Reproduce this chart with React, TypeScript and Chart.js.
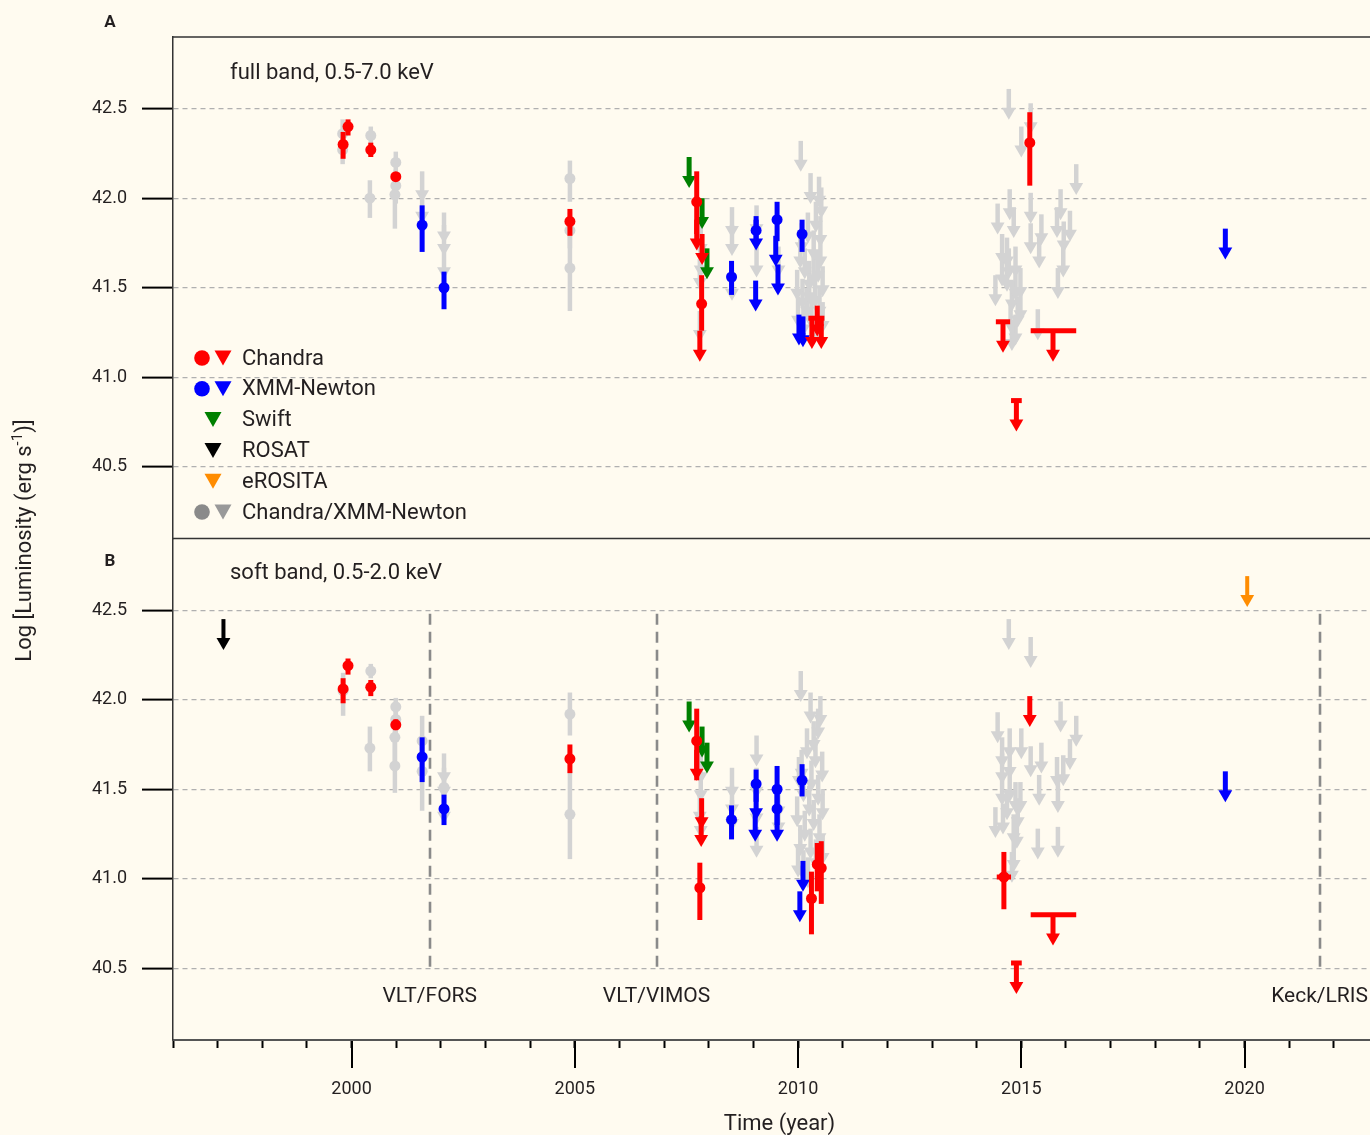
import { useEffect, useRef } from 'react';
import { Chart, registerables } from 'chart.js';

Chart.register(...registerables);

// ---------------- axis / label data ----------------
const X_MIN = 1996;
const X_MAX = 2022.81;
const Y_MIN = 40.1;
const Y_MAX = 42.9;
const X_LABEL_YEARS = [2000, 2005, 2010, 2015, 2020];
const SPECTRO_YEARS = [2001.75, 2006.83, 2021.68];
const SPECTRO_LABELS = ['VLT/FORS', 'VLT/VIMOS', 'Keck/LRIS'];
const PANEL_TITLES = ['full band, 0.5-7.0 keV', 'soft band, 0.5-2.0 keV'];
const PANEL_LETTERS = ['A', 'B'];
const LEGEND_LABELS = ['Chandra', 'XMM-Newton', 'Swift', 'ROSAT', 'eROSITA', 'Chandra/XMM-Newton'];

// detections: [year, logL, low, high] ; spans add [yearLow, yearHigh]
// upper limits: [year, limit] ; spans add [yearLow, yearHigh]

// ---------- panel A : full band ----------
const A_CHANDRA_DET = [
  [1999.81, 42.30, 42.22, 42.37], [1999.92, 42.40, 42.35, 42.44], [2000.43, 42.27, 42.23, 42.31],
  [2000.99, 42.12, 42.10, 42.14], [2004.89, 41.87, 41.79, 41.94], [2007.73, 41.98, 41.80, 42.15],
  [2007.84, 41.41, 41.26, 41.57], [2015.19, 42.31, 42.07, 42.48],
];
const A_CHANDRA_UL = [[2007.73, 41.88], [2007.85, 41.80], [2007.80, 41.26], [2010.43, 41.40]];
const A_CHANDRA_UL_SPAN = [
  [2010.31, 41.33, 2010.23, 2010.39], [2010.52, 41.33, 2010.45, 2010.59],
  [2014.59, 41.31, 2014.43, 2014.75], [2015.71, 41.26, 2015.21, 2016.23], [2014.89, 40.87, 2014.77, 2015.01],
];
const A_XMM_DET = [
  [2001.58, 41.85, 41.70, 41.96], [2002.07, 41.50, 41.38, 41.59], [2008.51, 41.56, 41.46, 41.65],
  [2009.06, 41.82, 41.76, 41.90], [2009.53, 41.88, 41.76, 41.98], [2010.09, 41.80, 41.70, 41.88],
];
const A_XMM_UL = [
  [2009.06, 41.88], [2009.05, 41.54], [2009.50, 41.79], [2009.55, 41.63],
  [2010.02, 41.35], [2010.11, 41.34], [2019.57, 41.83],
];
const A_SWIFT_UL = [[2007.56, 42.23], [2007.85, 42.00], [2007.96, 41.72]];
const A_ARCHIVE_DET = [
  [1999.80, 42.36, 42.28, 42.44], [1999.80, 42.27, 42.19, 42.35],
  [2000.43, 42.35, 42.30, 42.40], [2000.41, 42.00, 41.89, 42.10],
  [2000.99, 42.20, 42.13, 42.26], [2000.99, 42.07, 41.97, 42.16], [2000.97, 42.02, 41.83, 42.12],
  [2004.89, 42.11, 41.98, 42.21], [2004.89, 41.82, 41.72, 41.92], [2004.89, 41.61, 41.37, 41.85],
];
const A_ARCHIVE_UL = [
  [2001.58, 42.15], [2001.58, 42.03],
  [2002.07, 41.92], [2002.07, 41.85], [2002.07, 41.72],
  [2007.82, 41.85], [2007.82, 41.73], [2007.80, 41.66], [2007.80, 41.37],
  [2008.52, 41.95], [2008.52, 41.85], [2008.52, 41.60],
  [2009.07, 41.96], [2009.07, 41.73], [2009.56, 41.73],
  [2010.06, 42.32], [2010.28, 42.14], [2010.47, 42.12], [2010.52, 42.06], [2010.40, 41.98],
  [2010.22, 41.92], [2010.50, 41.90], [2010.08, 41.86], [2010.35, 41.82], [2010.05, 41.78],
  [2010.50, 41.78], [2010.15, 41.72], [2010.45, 41.70], [2010.35, 41.68], [2010.25, 41.65],
  [2010.55, 41.62], [2009.98, 41.60], [2010.25, 41.58], [2010.38, 41.56], [2010.10, 41.55],
  [2010.20, 41.50], [2010.48, 41.50], [2010.00, 41.45], [2010.30, 41.44], [2010.55, 41.42],
  [2010.12, 41.40], [2010.42, 41.38],
  [2014.72, 42.61], [2015.21, 42.53], [2015.00, 42.40], [2016.23, 42.19], [2014.47, 41.97],
  [2014.74, 42.05], [2014.83, 41.95], [2015.21, 42.03], [2015.21, 41.86], [2015.45, 41.91],
  [2015.40, 41.78], [2015.88, 42.05], [2015.80, 41.95], [2016.09, 41.93], [2015.95, 41.87],
  [2015.94, 41.73], [2015.82, 41.61], [2014.57, 41.80], [2014.57, 41.68], [2014.68, 41.78],
  [2014.68, 41.65], [2014.72, 41.72], [2014.87, 41.73], [2014.87, 41.60], [2014.42, 41.57],
  [2014.79, 41.54], [2014.98, 41.61], [2014.98, 41.48], [2014.87, 41.35], [2014.79, 41.32],
  [2015.37, 41.38], [2014.92, 41.45], [2014.76, 41.42],
];

// ---------- panel B : soft band ----------
const B_CHANDRA_DET = [
  [1999.81, 42.06, 41.98, 42.12], [1999.92, 42.19, 42.14, 42.23], [2000.43, 42.07, 42.02, 42.11],
  [2000.99, 41.86, 41.83, 41.89], [2004.89, 41.67, 41.59, 41.75], [2007.73, 41.77, 41.55, 41.95],
  [2007.80, 40.95, 40.77, 41.09], [2010.30, 40.89, 40.69, 41.04], [2010.43, 41.08, 40.93, 41.20],
  [2010.52, 41.06, 40.86, 41.21],
];
const B_CHANDRA_DET_SPAN = [[2014.61, 41.01, 40.83, 41.15, 2014.45, 2014.77]];
const B_CHANDRA_UL = [[2007.73, 41.72], [2007.84, 41.45], [2007.83, 41.35], [2015.19, 42.02]];
const B_CHANDRA_UL_SPAN = [[2015.71, 40.80, 2015.21, 2016.23], [2014.89, 40.53, 2014.77, 2015.01]];
const B_XMM_DET = [
  [2001.58, 41.68, 41.54, 41.79], [2002.07, 41.39, 41.30, 41.47], [2008.51, 41.33, 41.22, 41.41],
  [2009.06, 41.53, 41.43, 41.61], [2009.53, 41.50, 41.40, 41.63], [2009.53, 41.39, 41.30, 41.50],
  [2010.09, 41.55, 41.46, 41.64],
];
const B_XMM_UL = [[2009.06, 41.50], [2009.04, 41.38], [2009.53, 41.38], [2010.11, 41.10], [2010.04, 40.93], [2019.57, 41.60]];
const B_SWIFT_UL = [[2007.56, 41.99], [2007.85, 41.85], [2007.96, 41.76]];
const B_ROSAT_UL = [[1997.13, 42.45]];
const B_EROSITA_UL = [[2020.06, 42.69]];
const B_ARCHIVE_DET = [
  [1999.81, 42.05, 41.91, 42.15], [2000.43, 42.16, 42.12, 42.20], [2000.41, 41.73, 41.60, 41.85],
  [2000.99, 41.96, 41.90, 42.01], [2000.99, 41.89, 41.80, 41.98], [2000.97, 41.79, 41.65, 41.90],
  [2000.97, 41.63, 41.48, 41.78], [2001.58, 41.77, 41.60, 41.91], [2001.58, 41.60, 41.38, 41.75],
  [2002.07, 41.51, 41.45, 41.58], [2004.89, 41.92, 41.80, 42.04], [2004.89, 41.36, 41.11, 41.60],
];
const B_ARCHIVE_UL = [
  [2002.07, 41.70], [2002.07, 41.62], [2002.07, 41.48],
  [2007.82, 41.70], [2007.82, 41.60], [2007.80, 41.48], [2007.82, 41.40],
  [2008.52, 41.62], [2008.52, 41.52], [2008.52, 41.44],
  [2009.07, 41.80], [2009.07, 41.62], [2009.07, 41.47], [2009.07, 41.29],
  [2009.56, 41.51], [2009.56, 41.42],
  [2010.06, 42.16], [2010.28, 42.04], [2010.50, 42.02], [2010.45, 41.95], [2010.35, 41.88],
  [2010.20, 41.84], [2010.39, 41.79], [2010.08, 41.72], [2010.54, 41.71], [2010.02, 41.68],
  [2010.30, 41.66], [2010.12, 41.60], [2010.45, 41.58], [2010.25, 41.52], [2010.55, 41.50],
  [2009.98, 41.46], [2010.35, 41.44], [2010.15, 41.38], [2010.48, 41.36], [2010.05, 41.30],
  [2010.28, 41.28], [2010.55, 41.25], [2010.40, 41.22], [2010.00, 41.18], [2010.12, 41.16],
  [2010.22, 41.12],
  [2014.72, 42.45], [2015.21, 42.35], [2014.47, 41.93], [2014.74, 41.84], [2015.00, 41.84],
  [2014.57, 41.79], [2015.88, 41.99], [2016.23, 41.91], [2016.09, 41.78], [2015.21, 41.74],
  [2015.45, 41.76], [2015.40, 41.58], [2015.80, 41.68], [2015.94, 41.69], [2015.82, 41.54],
  [2014.57, 41.70], [2014.57, 41.58], [2014.74, 41.73], [2014.74, 41.60], [2014.87, 41.54],
  [2014.98, 41.54], [2014.42, 41.40], [2014.59, 41.42], [2014.83, 41.36], [2014.90, 41.34],
  [2014.83, 41.21], [2014.79, 41.15], [2015.37, 41.28], [2015.82, 41.29], [2014.92, 41.45],
  [2014.68, 41.50],
];

// ---------------- styles ----------------
const CREAM = '#fffbf0';
const TEXT = '#231f20';
const FONT = 'Roboto';
const RED = '#ff0000';
const BLUE = '#0000ff';
const GREEN = '#008000';
const BLACK = '#000000';
const ORANGE = '#ff8c00';
const LIGHTGRAY = '#d3d3d3';
const ARROW_DEX = 0.128; // distance from limit to arrow-head centre (dex)

Chart.defaults.font.family = FONT;
Chart.defaults.color = TEXT;

const toDet = (rows: number[][]) =>
  rows.map((r) => ({ x: r[0], y: r[1], lo: r[2], hi: r[3], xlo: r[4], xhi: r[5] }));
const toUL = (rows: number[][]) =>
  rows.map((r) => ({ x: r[0], y: r[1] - ARROW_DEX, top: r[1], xlo: r[2], xhi: r[3] }));

function ds(label: string, rows: number[][], kind: 'det' | 'ul', color: string, axis: string, barWidth = 4.5) {
  return {
    type: 'scatter',
    label,
    kind,
    barWidth,
    data: kind === 'det' ? toDet(rows) : toUL(rows),
    yAxisID: axis,
    xAxisID: 'x',
    showLine: false,
    pointStyle: kind === 'det' ? 'circle' : 'triangle',
    pointRadius: kind === 'det' ? 5.5 : 8,
    pointHoverRadius: kind === 'det' ? 5.5 : 8,
    pointRotation: kind === 'det' ? 0 : 180,
    pointBackgroundColor: color,
    pointBorderColor: color,
    pointBorderWidth: 0,
    backgroundColor: color,
    borderColor: color,
    clip: false,
  };
}

// first dataset is drawn on top
const DATASETS = [
  ds('A Chandra', A_CHANDRA_DET, 'det', RED, 'yA', 5),
  ds('A Chandra UL', A_CHANDRA_UL, 'ul', RED, 'yA', 5),
  ds('A Chandra UL span', A_CHANDRA_UL_SPAN, 'ul', RED, 'yA', 5),
  ds('B Chandra', B_CHANDRA_DET, 'det', RED, 'yB', 5),
  ds('B Chandra span', B_CHANDRA_DET_SPAN, 'det', RED, 'yB', 5),
  ds('B Chandra UL', B_CHANDRA_UL, 'ul', RED, 'yB', 5),
  ds('B Chandra UL span', B_CHANDRA_UL_SPAN, 'ul', RED, 'yB', 5),
  ds('A XMM', A_XMM_DET, 'det', BLUE, 'yA', 5),
  ds('A XMM UL', A_XMM_UL, 'ul', BLUE, 'yA', 5),
  ds('B XMM', B_XMM_DET, 'det', BLUE, 'yB', 5),
  ds('B XMM UL', B_XMM_UL, 'ul', BLUE, 'yB', 5),
  ds('A Swift UL', A_SWIFT_UL, 'ul', GREEN, 'yA', 5),
  ds('B Swift UL', B_SWIFT_UL, 'ul', GREEN, 'yB', 5),
  ds('B ROSAT UL', B_ROSAT_UL, 'ul', BLACK, 'yB', 4),
  ds('B eROSITA UL', B_EROSITA_UL, 'ul', ORANGE, 'yB', 4),
  ds('A archive', A_ARCHIVE_DET, 'det', LIGHTGRAY, 'yA', 4.5),
  ds('A archive UL', A_ARCHIVE_UL, 'ul', LIGHTGRAY, 'yA', 4.5),
  ds('B archive', B_ARCHIVE_DET, 'det', LIGHTGRAY, 'yB', 4.5),
  ds('B archive UL', B_ARCHIVE_UL, 'ul', LIGHTGRAY, 'yB', 4.5),
];

const LEGEND_STYLE = [
  { c: RED, circle: true },
  { c: BLUE, circle: true },
  { c: GREEN, circle: false },
  { c: BLACK, circle: false },
  { c: ORANGE, circle: false },
  { c: '#8a8a8a', circle: true },
];

function tri(ctx: CanvasRenderingContext2D, cx: number, cy: number, w: number, h: number) {
  ctx.beginPath();
  ctx.moveTo(cx - w / 2, cy - h / 2);
  ctx.lineTo(cx + w / 2, cy - h / 2);
  ctx.lineTo(cx, cy + h / 2);
  ctx.closePath();
  ctx.fill();
}

const decor = {
  id: 'decor',
  beforeDraw(chart: any) {
    const { ctx, width, height } = chart;
    ctx.save();
    ctx.fillStyle = CREAM;
    ctx.fillRect(0, 0, width, height);
    ctx.restore();
  },
  beforeDatasetsDraw(chart: any) {
    const { ctx } = chart;
    const xs = chart.scales.x;
    const yB = chart.scales.yB;
    ctx.save();
    ctx.strokeStyle = '#8a8a8a';
    ctx.lineWidth = 2.6;
    ctx.setLineDash([11, 7]);
    for (const yr of SPECTRO_YEARS) {
      const px = Math.round(xs.getPixelForValue(yr));
      ctx.beginPath();
      ctx.moveTo(px, yB.getPixelForValue(42.48));
      ctx.lineTo(px, yB.getPixelForValue(40.5));
      ctx.stroke();
    }
    ctx.restore();
  },
  beforeDatasetDraw(chart: any, args: any) {
    const d0 = chart.data.datasets[args.index];
    const xs = chart.scales.x;
    const ys = chart.scales[d0.yAxisID];
    const ctx = chart.ctx;
    ctx.save();
    ctx.strokeStyle = d0.pointBackgroundColor;
    ctx.lineWidth = d0.barWidth;
    ctx.lineCap = 'butt';
    for (const d of d0.data) {
      const px = xs.getPixelForValue(d.x);
      const yTop = ys.getPixelForValue(d0.kind === 'det' ? d.hi : d.top);
      const yBot = ys.getPixelForValue(d0.kind === 'det' ? d.lo : d.y);
      ctx.beginPath();
      ctx.moveTo(px, yTop);
      ctx.lineTo(px, yBot);
      ctx.stroke();
      if (d.xlo != null && d.xhi != null) {
        const yc = ys.getPixelForValue(d0.kind === 'det' ? d.y : d.top);
        ctx.save();
        ctx.lineWidth = 5;
        ctx.beginPath();
        ctx.moveTo(xs.getPixelForValue(d.xlo), yc);
        ctx.lineTo(xs.getPixelForValue(d.xhi), yc);
        ctx.stroke();
        ctx.restore();
      }
    }
    ctx.restore();
  },
  afterDraw(chart: any) {
    const { ctx } = chart;
    const xs = chart.scales.x;
    const yA = chart.scales.yA;
    const yB = chart.scales.yB;
    ctx.save();
    // frame lines
    ctx.strokeStyle = '#333';
    ctx.lineWidth = 1.5;
    ctx.beginPath();
    ctx.moveTo(xs.left, yA.top);
    ctx.lineTo(xs.right, yA.top);
    ctx.moveTo(xs.left, yA.bottom);
    ctx.lineTo(xs.right, yA.bottom);
    ctx.stroke();
    // major x ticks
    ctx.strokeStyle = '#000';
    ctx.lineWidth = 2;
    for (const yr of X_LABEL_YEARS) {
      const px = Math.round(xs.getPixelForValue(yr));
      ctx.beginPath();
      ctx.moveTo(px, xs.top + 1);
      ctx.lineTo(px, xs.top + 28);
      ctx.stroke();
    }
    ctx.fillStyle = TEXT;
    // panel titles
    ctx.font = `22px ${FONT}`;
    ctx.textAlign = 'left';
    ctx.textBaseline = 'middle';
    ctx.fillText(PANEL_TITLES[0], xs.left + 57, yA.top + 36);
    ctx.fillText(PANEL_TITLES[1], xs.left + 57, yB.top + 35);
    // panel letters
    ctx.font = `bold 17px ${FONT}`;
    ctx.textAlign = 'center';
    ctx.fillText(PANEL_LETTERS[0], 110, yA.top - 14);
    ctx.fillText(PANEL_LETTERS[1], 110, yB.top + 23);
    // spectroscopy labels
    ctx.font = `21px ${FONT}`;
    SPECTRO_YEARS.forEach((yr, i) => {
      ctx.fillText(SPECTRO_LABELS[i], xs.getPixelForValue(yr), yB.getPixelForValue(40.34));
    });
    // legend
    const lx = xs.left + 29;
    const ly0 = yA.top + 321;
    LEGEND_LABELS.forEach((lab, i) => {
      const st = LEGEND_STYLE[i];
      const cy = ly0 + i * 30.8;
      ctx.fillStyle = st.c;
      if (st.circle) {
        ctx.beginPath();
        ctx.arc(lx, cy, 7.8, 0, Math.PI * 2);
        ctx.fill();
        ctx.fillStyle = st.c === '#8a8a8a' ? '#999999' : st.c;
        tri(ctx, lx + 21, cy, 17, 15);
      } else {
        tri(ctx, lx + 11, cy, 17, 15);
      }
      ctx.fillStyle = TEXT;
      ctx.font = `22px ${FONT}`;
      ctx.textAlign = 'left';
      ctx.textBaseline = 'middle';
      ctx.fillText(lab, lx + 40, cy + 1);
    });
    // x title
    ctx.font = `22px ${FONT}`;
    ctx.textAlign = 'center';
    ctx.textBaseline = 'middle';
    ctx.fillText('Time (year)', (xs.left + xs.right) / 2 + 8, xs.top + 84);
    // y title with superscript
    const cy = (yA.top + yB.bottom) / 2 + 2;
    ctx.translate(25, cy);
    ctx.rotate(-Math.PI / 2);
    const p1 = 'Log [Luminosity (erg s';
    const p2 = '-1';
    const p3 = ')]';
    ctx.font = `22px ${FONT}`;
    const w1 = ctx.measureText(p1).width;
    const w3 = ctx.measureText(p3).width;
    ctx.font = `15px ${FONT}`;
    const w2 = ctx.measureText(p2).width;
    const tot = w1 + w2 + w3;
    let x0 = -tot / 2;
    ctx.textAlign = 'left';
    ctx.textBaseline = 'middle';
    ctx.font = `22px ${FONT}`;
    ctx.fillText(p1, x0, 0);
    x0 += w1;
    ctx.font = `15px ${FONT}`;
    ctx.fillText(p2, x0, -7);
    x0 += w2;
    ctx.font = `22px ${FONT}`;
    ctx.fillText(p3, x0, 0);
    ctx.restore();
  },
};

function yAxis() {
  return {
    type: 'linear',
    position: 'left',
    stack: 'panels',
    stackWeight: 1,
    min: Y_MIN,
    max: Y_MAX,
    ticks: {
      stepSize: 0.5,
      includeBounds: false,
      padding: 15,
      color: TEXT,
      font: { family: FONT, size: 18 },
      callback: (v: any) => Number(v).toFixed(1),
    },
    grid: {
      color: '#b0b0b0',
      lineWidth: 1.2,
      drawTicks: true,
      tickLength: 31,
      tickWidth: 2,
      tickColor: '#000',
      tickBorderDash: [],
    },
    border: { display: true, color: '#333', width: 1.5, dash: [5, 4] },
    afterFit: (s: any) => {
      s.width = 173;
      s.paddingTop = 0;
      s.paddingBottom = 0;
    },
  };
}

export default function App() {
  const ref = useRef<HTMLCanvasElement>(null);
  useEffect(() => {
    if (!ref.current) return;
    const chart = new Chart(ref.current, {
      type: 'scatter',
      data: { datasets: DATASETS as any },
      options: {
        responsive: false,
        animation: false,
        devicePixelRatio: 1,
        events: [],
        layout: { autoPadding: false, padding: { top: 37, left: 0, right: 0, bottom: 0 } },
        plugins: { legend: { display: false }, tooltip: { enabled: false }, title: { display: false } },
        scales: {
          x: {
            type: 'linear',
            position: 'bottom',
            min: X_MIN,
            max: X_MAX,
            ticks: {
              stepSize: 1,
              autoSkip: false,
              includeBounds: false,
              maxRotation: 0,
              minRotation: 0,
              padding: 31,
              color: TEXT,
              font: { family: FONT, size: 18 },
              callback: (v: any) => (X_LABEL_YEARS.includes(Number(v)) ? String(v) : ''),
            },
            grid: { drawOnChartArea: false, drawTicks: true, tickLength: 8, tickWidth: 2, tickColor: '#000' },
            border: { display: true, color: '#555', width: 2 },
            afterFit: (s: any) => {
              s.height = 95;
              s.paddingLeft = 0;
              s.paddingRight = 0;
            },
          },
          yB: yAxis(),
          yA: yAxis(),
        } as any,
      },
      plugins: [decor as any],
    } as any);
    return () => chart.destroy();
  }, []);
  return (
    <div style={{ position: 'absolute', left: 0, top: 0, width: 1370, height: 1135, background: CREAM }}>
      <canvas ref={ref} width={1370} height={1135} style={{ display: 'block', width: 1370, height: 1135 }} />
    </div>
  );
}
